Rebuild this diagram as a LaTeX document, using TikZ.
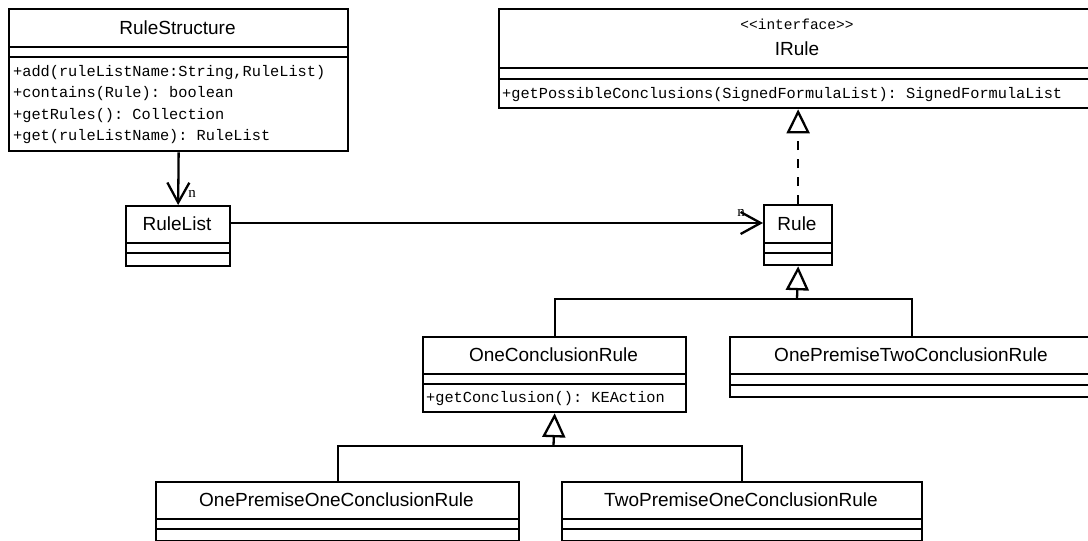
\documentclass[tikz,border=0pt]{standalone}
\usepackage{fontspec}
\setmainfont{Liberation Serif}
\setsansfont{Liberation Sans}
\setmonofont{Liberation Mono}
\usetikzlibrary{arrows.meta}

\begin{document}
\begin{tikzpicture}[x=1pt, y=-1pt, line width=2.3pt,
  classbox/.style={draw, line width=2.3pt, inner sep=0pt, anchor=north west},
  classname/.style={font=\sffamily\fontsize{19}{22}\selectfont},
  stereo/.style={font=\ttfamily\fontsize{14.5}{17}\selectfont},
  member/.style={font=\ttfamily\fontsize{15.3}{18}\selectfont, anchor=west, inner sep=0pt},
  assoc/.style={-{Straight Barb[length=20pt,width=22pt]}},
  inherit/.style={-{Triangle[open,length=24pt,width=23pt]}},
  realize/.style={inherit, dash pattern=on 9pt off 9pt},
  mult/.style={font=\fontsize{15}{17}\selectfont, inner sep=0pt}]

\useasboundingbox[fill=white] (0,0) rectangle (1088,541);
\clip (0,0) rectangle (1088,541);

\node[classbox, minimum width=339pt, minimum height=142pt] (RuleStructure) at (8,8) {};
\draw (8,47)--++(339,0);
\draw (8,57)--++(339,0);
\node[classname] at (177.5,28) {RuleStructure};
\node[member] at (12,73) {+add(ruleListName:String,RuleList)};
\node[member] at (12,94) {+contains(Rule): boolean};
\node[member] at (12,116) {+getRules(): Collection};
\node[member] at (12,137) {+get(ruleListName): RuleList};

\node[classbox, minimum width=104pt, minimum height=60pt] (RuleList) at (125,205) {};
\draw (125,243)--++(104,0);
\draw (125,253)--++(104,0);
\node[classname] at (177,224) {RuleList};

\node[classbox, minimum width=598pt, minimum height=99pt] (IRule) at (498,8) {};
\draw (498,68)--++(598,0);
\draw (498,79)--++(598,0);
\node[stereo] at (797,24) {<<interface>>};
\node[classname] at (797,49) {IRule};
\node[member] at (501,95) {+getPossibleConclusions(SignedFormulaList): SignedFormulaList};

\node[classbox, minimum width=68pt, minimum height=60pt] (Rule) at (763,204) {};
\draw (763,243)--++(68,0);
\draw (763,253)--++(68,0);
\node[classname] at (797,224) {Rule};

\node[classbox, minimum width=263pt, minimum height=75pt] (OneConclusionRule) at (422,336) {};
\draw (422,374)--++(263,0);
\draw (422,384)--++(263,0);
\node[classname] at (553.5,355) {OneConclusionRule};
\node[member] at (425,399) {+getConclusion(): KEAction};

\node[classbox, minimum width=364pt, minimum height=60pt] (OnePremiseTwoConclusionRule) at (729,336) {};
\draw (729,374)--++(364,0);
\draw (729,385)--++(364,0);
\node[classname] at (911,355) {OnePremiseTwoConclusionRule};

\node[classbox, minimum width=363pt, minimum height=59pt] (OnePremiseOneConclusionRule) at (155,481) {};
\draw (155,519)--++(363,0);
\draw (155,529)--++(363,0);
\node[classname] at (336.5,500) {OnePremiseOneConclusionRule};

\node[classbox, minimum width=360pt, minimum height=59pt] (TwoPremiseOneConclusionRule) at (561,481) {};
\draw (561,519)--++(360,0);
\draw (561,529)--++(360,0);
\node[classname] at (741,500) {TwoPremiseOneConclusionRule};

\draw[assoc] (RuleStructure.south) -- (RuleList.north);
\node[mult] (nRuleList) at (192,194) {n};
\draw[assoc] (RuleList.east |- 0,223) -- (Rule.west |- 0,223);
\node[mult] (nRule) at (741,213) {n};

\draw[realize] (Rule.north) -- (IRule.south);

\coordinate (ruleJoin) at (797,299);
\draw[inherit] (ruleJoin) -- (Rule.south);
\draw (OneConclusionRule.north) |- (ruleJoin);
\draw (OnePremiseTwoConclusionRule.north) |- (ruleJoin);

\coordinate (oneConclusionJoin) at (553.5,446);
\draw[inherit] (oneConclusionJoin) -- (OneConclusionRule.south);
\draw (OnePremiseOneConclusionRule.north) |- (oneConclusionJoin);
\draw (TwoPremiseOneConclusionRule.north) |- (oneConclusionJoin);

\end{tikzpicture}
\end{document}
